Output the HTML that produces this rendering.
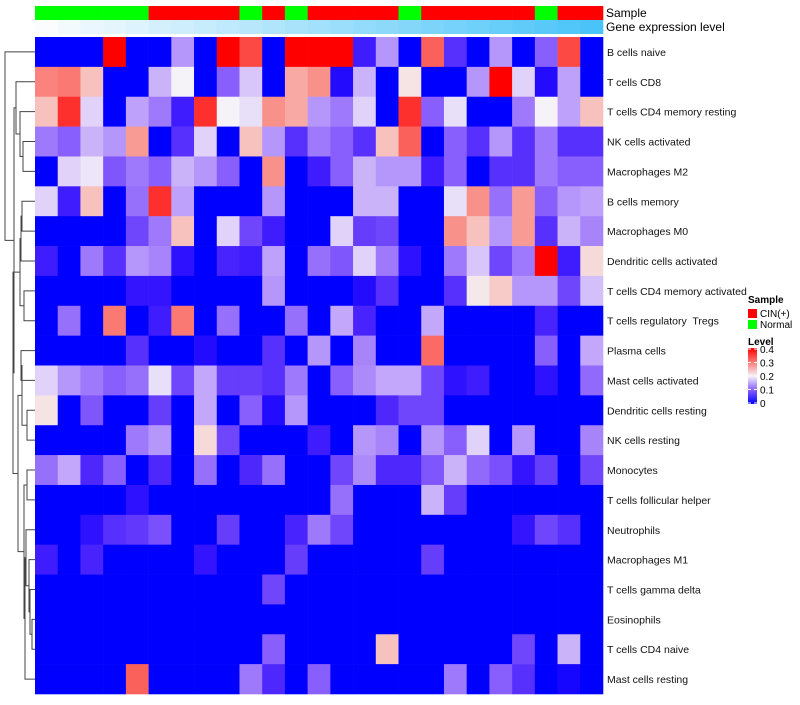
<!DOCTYPE html>
<html><head><meta charset="utf-8">
<style>
html,body{margin:0;padding:0;background:#fff;}
body{width:800px;height:700px;overflow:hidden;font-family:"Liberation Sans",sans-serif;}
svg text{font-family:"Liberation Sans",sans-serif;white-space:pre;}
</style></head>
<body>
<svg id="chart" width="800" height="700" xmlns="http://www.w3.org/2000/svg"></svg>
<script>
// ---- data ----
const rowLabels = ["B cells naive","T cells CD8","T cells CD4 memory resting","NK cells activated","Macrophages M2","B cells memory","Macrophages M0","Dendritic cells activated","T cells CD4 memory activated","T cells regulatory  Tregs","Plasma cells","Mast cells activated","Dendritic cells resting","NK cells resting","Monocytes","T cells follicular helper","Neutrophils","Macrophages M1","T cells gamma delta","Eosinophils","T cells CD4 naive","Mast cells resting"];
const sampleGroups = ["Normal","Normal","Normal","Normal","Normal","CIN(+)","CIN(+)","CIN(+)","CIN(+)","Normal","CIN(+)","Normal","CIN(+)","CIN(+)","CIN(+)","CIN(+)","Normal","CIN(+)","CIN(+)","CIN(+)","CIN(+)","CIN(+)","Normal","CIN(+)","CIN(+)"];
const geneLevel = [0,1,2,3,4,5,6,7,8,9,10,11,12,13,14,15,16,17,18,19,20,21,22,23,24];
// cell levels on a 0-10 scale (0 -> 0, 10 -> 0.4)
const r0 =[0,0,0,10,0,0,3.5,0,10,8.5,0,10,10,10,1,3.5,0,8,1.5,0,3.5,0,2.5,8.5,0];
const r1 =[7.3,7.5,6,0,0,4,5,0,2.5,4.3,0,6.5,7,0.5,4,0,5.3,0,0,3.5,10,4.5,0.5,3.7,0];
const r2 =[6,9,4.5,0,3.7,3,1,9,5,4.7,7,6.5,3.5,3,4.5,0,9,2.5,4.7,0,0,3,5,3.7,6];
const r3 =[3,2.5,4,3.5,6.8,0,1.5,4.5,0,6,3.5,1.5,3,2.5,1.5,6,8,0,2.5,1.5,3.5,1.5,3,1.5,1.5];
const r4 =[0,4.5,4.8,2.3,3,2.5,4,3.5,2.5,0,7,0,1,2.5,4,3.5,3.5,1,2.5,0,1.5,1.5,3,2.5,2.5];
const r5 =[4.5,1,6,0,2.8,9,3.7,0,0,0,3.5,0,0,0,4,4,0,0,4.7,7,2.8,6.8,2.5,3.5,3.7];
const r6 =[0,0,0,0,2,3,6,0,4.5,2,1,0,0,4.5,1.8,2,0,0,7,6,3.5,6.8,1.5,4,3.2];
const r7 =[1,0,3,1.5,3.5,3.2,0.7,0,1.2,1,3.7,0,2.8,2.3,4.5,3,0.7,0,3,4.3,2,3,10,1,5.5];
const r8 =[0,0,0,0,0.8,0.8,0,0,0,0,3.5,0,0,0,0.5,1.5,0,0,1.5,5.2,5.8,3.5,3.5,2,4.2];
const r9 =[0,2.8,0,7.5,0,1,7.5,0,2.8,0,0,2.8,0,3.8,1.2,0,0,3.8,0,0,0,0,1.2,0,0];
const r10=[0,0,0,0,1.5,0,0,0.5,0,0,1.5,0,3.5,0,3.2,0,0,7.8,0,0,0,0,2.5,0,3.8];
const r11=[4.5,3.5,3,2.5,2.8,4.7,2,3.8,1.8,1.8,1.5,3,0,2.5,3.3,3.8,3.8,2,0.7,1,0,0,0.7,0,2.7];
const r12=[5.3,0,2.3,0,0,1.8,0,3.8,0,2.5,0.5,3.5,0,0,0,1.3,2,2,0,0,0,0,0,0,0];
const r13=[0,0,0,0,3,3.5,0,5.5,2,0,0,0,1,0,3.5,3.2,0,3.5,2.5,4.5,0,3.5,0,0,3.2];
const r14=[2.8,3.8,1.3,2.5,0,1.3,0,2.8,0,1.3,2.8,0,0,2,3.3,1.3,1.3,2.3,4,2.7,2.2,0.8,1.8,0,2];
const r15=[0,0,0,0,0.7,0,0,0,0,0,0,0,0,2.8,0,0,0,4,1.8,0,0,0,0,0,0];
const r16=[0,0,0.7,1.5,1.7,2.2,0,0,1.8,0,0,1.2,3,2,0,0,0,0,0,0,0,0.8,2,1.5,0];
const r17=[1,0,1.2,0,0,0,0,0.8,0,0,0,1.8,0,0,0,0,0,1.8,0,0,0,0,0,0,0];
const r18=[0,0,0,0,0,0,0,0,0,0,2,0,0,0,0,0,0,0,0,0,0,0,0,0,0];
const r19=[0,0,0,0,0,0,0,0,0,0,0,0,0,0,0,0,0,0,0,0,0,0,0,0,0];
const r20=[0,0,0,0,0,0,0,0,0,0,2.5,0,0,0,0,6,0,0,0,0,0,2,0,4,0];
const r21=[0,0,0,0,8,0,0,0,0,3,1.3,0,2.5,0,0,0,0,0,3,0,2.5,1.5,0,0.3,0];
const cellLevels = [r0,r1,r2,r3,r4,r5,r6,r7,r8,r9,r10,r11,r12,r13,r14,r15,r16,r17,r18,r19,r20,r21];
const legendTicks = ["0.4","0.3","0.2","0.1","0"];
// dendrogram: [height, left, right]
const tree = [5,0,[14,[16,1,[20,2,[23,3,4]]],[13,[20,[21,[22,5,6],7],[24,8,9]],[18,[22,[21,10,11],[27,12,13]],[24,[27,14,15],[25,[26,16,[29,17,[30,18,[32,19,20]]]],21]]]]]];

// ---- layout ----
const NS="http://www.w3.org/2000/svg";
const svg=document.getElementById('chart');
const X0=35,X1=603,Y0=37,Y1=694;
const nCols=sampleGroups.length,nRows=rowLabels.length;
const cw=(X1-X0)/nCols,rh=(Y1-Y0)/nRows;
const xPos=c=>X0+c*cw;
const yPos=r=>Y0+r*rh;
function mk(tag,attrs,parent){const e=document.createElementNS(NS,tag);for(const k in attrs)e.setAttribute(k,attrs[k]);(parent||svg).appendChild(e);return e;}
function lerp(a,b,t){return Math.round(a+(b-a)*t);}
function colorOf(level){const v=Math.max(0,Math.min(10,level))/10;
  if(v<0.5){const t=v/0.5;return `rgb(${lerp(0,245,Math.pow(t,0.85))},${lerp(0,242,Math.pow(t,1.35))},${lerp(255,248,t)})`;}
  const t=(v-0.5)/0.5;return `rgb(${lerp(245,255,t)},${lerp(242,0,t)},${lerp(248,0,Math.pow(t,0.9))})`;}

// sample bar
for(let c=0;c<nCols;c++){
  const e=mk('rect',{x:xPos(c),y:6,width:cw+0.3,height:14,fill:sampleGroups[c]==="Normal"?"#00ff00":"#ff0000"});
  
  
}
const geneMax=Math.max(...geneLevel);
for(let c=0;c<nCols;c++){
  const t=geneLevel[c]/geneMax;
  const e=mk('rect',{x:xPos(c),y:20,width:cw+0.3,height:14,fill:`rgb(${lerp(250,74,t)},${lerp(252,196,t)},${lerp(254,248,t)})`});
  
  
}
let t1=mk('text',{x:606,y:17,"font-size":12,fill:"#000"});t1.textContent="Sample";

let t2=mk('text',{x:606,y:31,"font-size":12,fill:"#000"});t2.textContent="Gene expression level";


// cells
for(let r=0;r<nRows;r++){
  for(let c=0;c<nCols;c++){
    const e=mk('rect',{x:xPos(c),y:yPos(r),width:cw+0.3,height:rh+0.3,fill:colorOf(cellLevels[r][c])});
    
    
  }
  const l=mk('text',{x:607,y:yPos(r)+rh/2+4,"font-size":10.5,fill:"#111","xml:space":"preserve"});
  l.textContent=rowLabels[r];
  
  
}

// dendrogram
const dg=mk('g',{stroke:"#444","stroke-width":1,fill:"none"});


function draw(node){
  if(typeof node==="number")return {x:X0,y:yPos(node)+rh/2};
  const a=draw(node[1]),b=draw(node[2]);const h=node[0];
  mk('path',{d:`M${a.x},${a.y}H${h}V${b.y}H${b.x}`},dg);
  return {x:h,y:(a.y+b.y)/2};
}
draw(tree);

// legend
let ls=mk('text',{x:748,y:303,"font-size":10,"font-weight":"bold"});ls.textContent="Sample";

const legItems=[["CIN(+)","#ff0000"],["Normal","#00ff00"]];
legItems.forEach((it,i)=>{
  const r=mk('rect',{x:748,y:309+i*11,width:9,height:9,fill:it[1]});
  
  const t=mk('text',{x:760,y:317+i*11,"font-size":10});t.textContent=it[0];
  
});
let ll=mk('text',{x:748,y:345,"font-size":10,"font-weight":"bold"});ll.textContent="Level";

const defs=mk('defs',{});
const grad=mk('linearGradient',{id:"lg",x1:0,y1:1,x2:0,y2:0},defs);
[[0,colorOf(0)],[0.25,colorOf(2.5)],[0.5,colorOf(5)],[0.75,colorOf(7.5)],[1,colorOf(10)]].forEach(s=>mk('stop',{offset:s[0],"stop-color":s[1]},grad));
const cb=mk('rect',{x:748,y:348,width:9,height:56,fill:"url(#lg)"});

legendTicks.forEach((tk,i)=>{
  const y=349+i*13.5;
  mk('line',{x1:748,x2:751,y1:y,y2:y,stroke:"#fff"});mk('line',{x1:754,x2:757,y1:y,y2:y,stroke:"#fff"});
  const t=mk('text',{x:760,y:y+4,"font-size":10});t.textContent=tk;
  
});
</script>
</body></html>
